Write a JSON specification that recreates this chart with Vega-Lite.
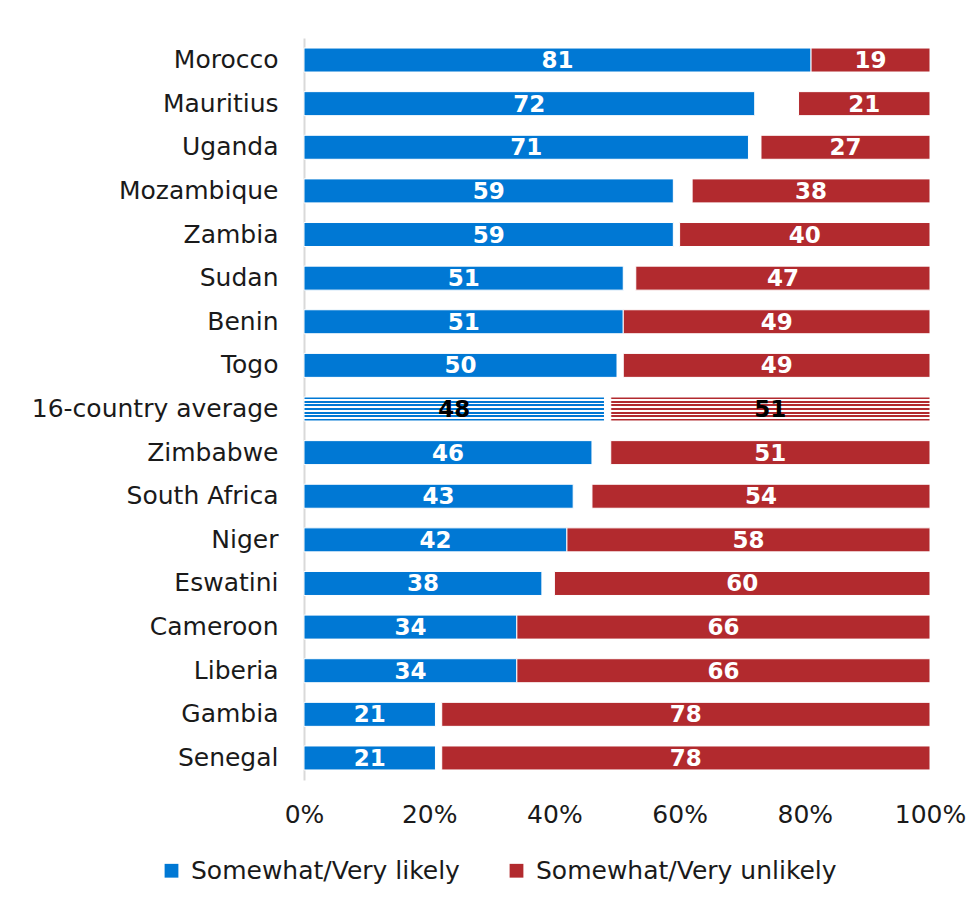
{
  "$schema": "https://vega.github.io/schema/vega-lite/v6.json",
  "width": 626,
  "height": 742,
  "autosize": {"type": "none"},
  "padding": {"left": 304, "top": 38, "right": 47, "bottom": 122},
  "background": "white",
  "config": {"view": {"stroke": null}, "font": "DejaVu Sans"},
  "data": {"values": [
    {"country": "Morocco", "likely": 81, "unlikely": 19},
    {"country": "Mauritius", "likely": 72, "unlikely": 21},
    {"country": "Uganda", "likely": 71, "unlikely": 27},
    {"country": "Mozambique", "likely": 59, "unlikely": 38},
    {"country": "Zambia", "likely": 59, "unlikely": 40},
    {"country": "Sudan", "likely": 51, "unlikely": 47},
    {"country": "Benin", "likely": 51, "unlikely": 49},
    {"country": "Togo", "likely": 50, "unlikely": 49},
    {"country": "16-country average", "likely": 48, "unlikely": 51},
    {"country": "Zimbabwe", "likely": 46, "unlikely": 51},
    {"country": "South Africa", "likely": 43, "unlikely": 54},
    {"country": "Niger", "likely": 42, "unlikely": 58},
    {"country": "Eswatini", "likely": 38, "unlikely": 60},
    {"country": "Cameroon", "likely": 34, "unlikely": 66},
    {"country": "Liberia", "likely": 34, "unlikely": 66},
    {"country": "Gambia", "likely": 21, "unlikely": 78},
    {"country": "Senegal", "likely": 21, "unlikely": 78}
  ]},
  "encoding": {
    "y": {
      "field": "country", "type": "nominal", "sort": null, "title": null,
      "scale": {"paddingInner": 0.45, "paddingOuter": 0.23},
      "axis": {"ticks": false, "labelFontSize": 25, "labelColor": "#1a1a1a", "labelPadding": 26, "domainColor": "#d9d9d9", "domainWidth": 2, "labelLimit": 300}
    }
  },
  "layer": [
    {
      "encoding": {
        "x": {
          "field": "likely", "type": "quantitative", "stack": "zero", "title": null,
          "scale": {"domain": [0, 100], "nice": false},
          "axis": {"values": [0, 20, 40, 60, 80, 100], "labelExpr": "datum.value + '%'", "labelFlush": false, "domain": false, "ticks": false, "grid": false, "labelFontSize": 25, "labelColor": "#1a1a1a", "labelPadding": 22}
        }
      },
      "layer": [
        {
          "mark": {"type": "bar", "stroke": "white", "strokeWidth": 1},
          "encoding": {
            "color": {
              "condition": {"test": "datum.country == '16-country average'", "value": {"gradient": "linear", "x1": 0, "y1": 0, "x2": 0, "y2": 1, "stops": [
                {"offset": 0, "color": "#0078D4"}, {"offset": 0.083, "color": "#0078D4"}, {"offset": 0.083, "color": "white"}, {"offset": 0.153, "color": "white"},
                {"offset": 0.153, "color": "#0078D4"}, {"offset": 0.236, "color": "#0078D4"}, {"offset": 0.236, "color": "white"}, {"offset": 0.305, "color": "white"},
                {"offset": 0.305, "color": "#0078D4"}, {"offset": 0.389, "color": "#0078D4"}, {"offset": 0.389, "color": "white"}, {"offset": 0.458, "color": "white"},
                {"offset": 0.458, "color": "#0078D4"}, {"offset": 0.542, "color": "#0078D4"}, {"offset": 0.542, "color": "white"}, {"offset": 0.611, "color": "white"},
                {"offset": 0.611, "color": "#0078D4"}, {"offset": 0.694, "color": "#0078D4"}, {"offset": 0.694, "color": "white"}, {"offset": 0.764, "color": "white"},
                {"offset": 0.764, "color": "#0078D4"}, {"offset": 0.847, "color": "#0078D4"}, {"offset": 0.847, "color": "white"}, {"offset": 0.917, "color": "white"},
                {"offset": 0.917, "color": "#0078D4"}, {"offset": 1, "color": "#0078D4"}]}},
              "datum": "Somewhat/Very likely", "type": "nominal",
              "scale": {"domain": ["Somewhat/Very likely", "Somewhat/Very unlikely"], "range": ["#0078D4", "#B22A2E"]},
              "legend": {"title": null, "orient": "none", "legendX": -145, "legendY": 820, "direction": "horizontal", "symbolType": "square", "symbolSize": 190, "symbolStrokeWidth": 0, "labelFontSize": 25, "labelColor": "#1a1a1a", "labelOffset": 7, "columnPadding": 44, "labelLimit": 400, "padding": 0}
            }
          }
        },
        {
          "mark": {"type": "text", "fontSize": 23, "fontWeight": "bold", "align": "center", "baseline": "middle", "dy": 1},
          "encoding": {
            "x": {"field": "likely", "type": "quantitative", "stack": "zero", "bandPosition": 0.5},
            "text": {"field": "likely", "type": "quantitative"},
            "color": {"condition": {"test": "datum.country == '16-country average'", "value": "black"}, "value": "white"}
          }
        }
      ]
    },
    {
      "encoding": {
        "x": {
          "field": "unlikely", "type": "quantitative", "stack": "zero", "title": null,
          "scale": {"domain": [0, 100], "nice": false, "reverse": true},
          "axis": null
        }
      },
      "layer": [
        {
          "mark": {"type": "bar", "stroke": "white", "strokeWidth": 1},
          "encoding": {
            "color": {
              "condition": {"test": "datum.country == '16-country average'", "value": {"gradient": "linear", "x1": 0, "y1": 0, "x2": 0, "y2": 1, "stops": [
                {"offset": 0, "color": "#B22A2E"}, {"offset": 0.083, "color": "#B22A2E"}, {"offset": 0.083, "color": "white"}, {"offset": 0.153, "color": "white"},
                {"offset": 0.153, "color": "#B22A2E"}, {"offset": 0.236, "color": "#B22A2E"}, {"offset": 0.236, "color": "white"}, {"offset": 0.305, "color": "white"},
                {"offset": 0.305, "color": "#B22A2E"}, {"offset": 0.389, "color": "#B22A2E"}, {"offset": 0.389, "color": "white"}, {"offset": 0.458, "color": "white"},
                {"offset": 0.458, "color": "#B22A2E"}, {"offset": 0.542, "color": "#B22A2E"}, {"offset": 0.542, "color": "white"}, {"offset": 0.611, "color": "white"},
                {"offset": 0.611, "color": "#B22A2E"}, {"offset": 0.694, "color": "#B22A2E"}, {"offset": 0.694, "color": "white"}, {"offset": 0.764, "color": "white"},
                {"offset": 0.764, "color": "#B22A2E"}, {"offset": 0.847, "color": "#B22A2E"}, {"offset": 0.847, "color": "white"}, {"offset": 0.917, "color": "white"},
                {"offset": 0.917, "color": "#B22A2E"}, {"offset": 1, "color": "#B22A2E"}]}},
              "datum": "Somewhat/Very unlikely", "type": "nominal"
            }
          }
        },
        {
          "mark": {"type": "text", "fontSize": 23, "fontWeight": "bold", "align": "center", "baseline": "middle", "dy": 1},
          "encoding": {
            "x": {"field": "unlikely", "type": "quantitative", "stack": "zero", "bandPosition": 0.5},
            "text": {"field": "unlikely", "type": "quantitative"},
            "color": {"condition": {"test": "datum.country == '16-country average'", "value": "black"}, "value": "white"}
          }
        }
      ]
    }
  ],
  "resolve": {"scale": {"x": "independent"}}
}
